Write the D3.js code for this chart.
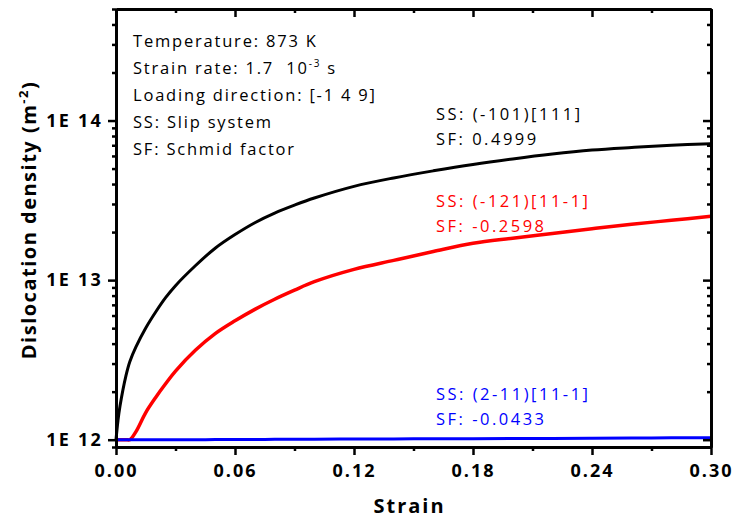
<!DOCTYPE html>
<html>
<head>
<meta charset="utf-8">
<script src="https://cdn.jsdelivr.net/npm/d3@7"></script>
<style>
  body { margin: 0; background: #fff; }
  text { font-family: "Open Sans", sans-serif; }
</style>
</head>
<body>
<div id="chart"></div>
<script>
// strain values (x) shared by all curves
var strain = [0, 0.001, 0.002, 0.005, 0.007, 0.01, 0.015, 0.02, 0.025, 0.03, 0.04, 0.05, 0.06,
              0.07, 0.08, 0.09, 0.1, 0.12, 0.14, 0.16, 0.18, 0.2, 0.22, 0.24, 0.26, 0.28, 0.30];

// dislocation density, SS (-101)[111]
var rhoBlack = [1.0e12, 1.32e12, 1.62e12, 2.51e12, 3.09e12, 3.80e12, 5.01e12, 6.31e12, 7.76e12,
                9.23e12, 1.23e13, 1.585e13, 1.93e13, 2.29e13, 2.63e13, 2.95e13, 3.27e13, 3.87e13,
                4.37e13, 4.84e13, 5.31e13, 5.75e13, 6.17e13, 6.53e13, 6.78e13, 7.00e13, 7.16e13];
// SS (-121)[11-1]
var rhoRed = [1.0e12, 1.0e12, 1.0e12, 1.0e12, 1.0e12, 1.12e12, 1.48e12, 1.84e12, 2.24e12,
              2.69e12, 3.63e12, 4.62e12, 5.56e12, 6.56e12, 7.59e12, 8.65e12, 9.77e12, 1.167e13,
              1.33e13, 1.51e13, 1.70e13, 1.83e13, 1.96e13, 2.10e13, 2.24e13, 2.37e13, 2.51e13];
// SS (2-11)[11-1]
var rhoBlue = [1.0e12, 1.0e12, 1.0e12, 1.0e12, 1.0e12, 1.0e12, 1.0e12, 1.0e12, 1.0e12,
               1.0e12, 1.0e12, 1.002e12, 1.003e12, 1.004e12, 1.005e12, 1.006e12, 1.007e12, 1.009e12,
               1.011e12, 1.013e12, 1.015e12, 1.017e12, 1.019e12, 1.021e12, 1.024e12, 1.027e12, 1.03e12];

var xTicks = [0, 0.06, 0.12, 0.18, 0.24, 0.30];
var yTicks = [1e12, 1e13, 1e14];
var yTickLabels = ["1E 12", "1E 13", "1E 14"];

var infoLines = ["Temperature: 873 K", "Strain rate: 1.7\u00a0 10", "Loading direction: [-1 4 9]",
                 "SS: Slip system", "SF: Schmid factor"];

var series = [
  {name: "black", color: "#000000", values: rhoBlack, width: 3, lab1: "SS: (-101)[111]", lab2: "SF: 0.4999", ly: 120},
  {name: "red", color: "#ff0000", values: rhoRed, width: 3.5, lab1: "SS: (-121)[11-1]", lab2: "SF: -0.2598", ly: 207},
  {name: "blue", color: "#0000ff", values: rhoBlue, width: 3, lab1: "SS: (2-11)[11-1]", lab2: "SF: -0.0433", ly: 400}
];

var margin = {top: 9, right: 25, bottom: 74, left: 116},
    width = 736 - margin.left - margin.right,
    height = 521 - margin.top - margin.bottom;

var svg = d3.select("#chart")
  .append("svg")
    .attr("width", 736)
    .attr("height", 521)
  .append("g")
    .attr("transform", "translate(" + margin.left + "," + margin.top + ")");

var x = d3.scaleLinear().domain([0, 0.30]).range([0, width]);
var y = d3.scaleLog().domain([9e11, 5e14]).range([height, 0]);

// minor ticks
var xMinor = d3.range(0.03, 0.30, 0.06);
var yMinor = [];
[1e11, 1e12, 1e13, 1e14].forEach(function(b) {
  for (var k = 2; k <= 9; k++) {
    var v = b * k;
    if (v >= 9e11 && v <= 5e14) yMinor.push(v);
  }
});

// curves
var line = d3.line()
  .x(function(d) { return x(d[0]); })
  .y(function(d) { return y(d[1]); })
  .curve(d3.curveCatmullRom.alpha(0.5));

series.forEach(function(s) {
  svg.append("path")
    .datum(strain.map(function(v, i) { return [v, s.values[i]]; }))
    .attr("fill", "none")
    .attr("stroke", s.color)
    .attr("stroke-width", s.width)
    .attr("d", line);
});

// axes
function styleAxis(g) {
  g.selectAll("path").attr("stroke", "#000").attr("stroke-width", 2.8);
  g.selectAll("line").attr("stroke", "#000").attr("stroke-width", 2.5);
  g.selectAll("text").attr("font-weight", "bold").attr("fill", "#000");
}

svg.append("g")
  .attr("transform", "translate(0," + height + ")")
  .call(d3.axisBottom(x).tickValues(xMinor).tickSize(4).tickFormat("").tickSizeOuter(0))
  .call(styleAxis);
svg.append("g")
  .attr("transform", "translate(0," + height + ")")
  .call(d3.axisBottom(x).tickValues(xTicks).tickSize(8).tickFormat(d3.format(".2f")).tickSizeOuter(0).tickPadding(9))
  .call(styleAxis)
  .selectAll("text").attr("font-size", 18).attr("letter-spacing", 2);

svg.append("g")
  .call(d3.axisLeft(y).tickValues(yMinor).tickSize(4).tickFormat("").tickSizeOuter(0))
  .call(styleAxis);
svg.append("g")
  .call(d3.axisLeft(y).tickValues(yTicks).tickSize(8).tickSizeOuter(0).tickPadding(5)
    .tickFormat(function(d, i) { return yTickLabels[i]; }))
  .call(styleAxis)
  .selectAll("text").attr("font-size", 18).attr("letter-spacing", 2.2);

// mirrored axes, ticks inward
svg.append("g")
  .call(d3.axisBottom(x).tickValues(xMinor).tickSize(4).tickFormat("").tickSizeOuter(0))
  .call(styleAxis);
svg.append("g")
  .call(d3.axisBottom(x).tickValues(xTicks).tickSize(8).tickFormat("").tickSizeOuter(0))
  .call(styleAxis);
svg.append("g")
  .attr("transform", "translate(" + width + ",0)")
  .call(d3.axisLeft(y).tickValues(yMinor).tickSize(4).tickFormat("").tickSizeOuter(0))
  .call(styleAxis);
svg.append("g")
  .attr("transform", "translate(" + width + ",0)")
  .call(d3.axisLeft(y).tickValues(yTicks).tickSize(8).tickFormat("").tickSizeOuter(0))
  .call(styleAxis);

// info text
var info = svg.append("g")
  .attr("font-size", 16.5)
  .attr("letter-spacing", 1.8)
  .attr("fill", "#000");
infoLines.forEach(function(t, i) {
  var tx = info.append("text")
    .attr("x", 17)
    .attr("y", 38 + i * 27)
    .text(t);
  if (i == 1) {
    tx.append("tspan").attr("dy", -7).attr("font-size", 10).text("-3");
    tx.append("tspan").attr("dy", 7).text(" s");
  }
});

// curve labels
series.forEach(function(s) {
  var g = svg.append("g")
    .attr("font-size", 16.5)
    .attr("letter-spacing", 2.5)
    .attr("fill", s.color);
  g.append("text").attr("x", 320).attr("y", s.ly - margin.top).text(s.lab1);
  g.append("text").attr("x", 320).attr("y", s.ly - margin.top + 25).text(s.lab2);
});

// axis titles
svg.append("text")
  .attr("x", width / 2 - 4)
  .attr("y", height + 66)
  .attr("text-anchor", "middle")
  .attr("font-weight", "bold")
  .attr("font-size", 20)
  .attr("letter-spacing", 2)
  .text("Strain");

var yt = svg.append("text")
  .attr("transform", "translate(-80,211) rotate(-90)")
  .attr("text-anchor", "middle")
  .attr("font-weight", "bold")
  .attr("font-size", 20)
  .attr("letter-spacing", 1.5)
  .text("Dislocation density (m");
yt.append("tspan").attr("dy", -8).attr("font-size", 13).text("-2");
yt.append("tspan").attr("dy", 8).text(")");
</script>
</body>
</html>
